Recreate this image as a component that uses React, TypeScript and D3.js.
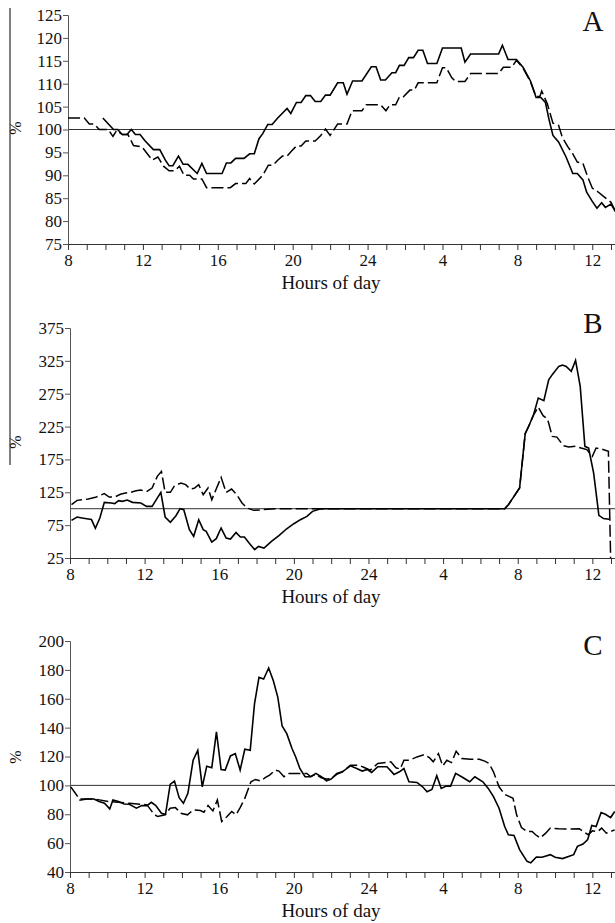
import React, { Component } from 'react';
import * as d3 from 'd3';

// hours since 08:00 on day 1, value in %
const hourLabels = ['8', '12', '16', '20', '24', '4', '8', '12'];

const panelASolid: [number, number][] = [
  [1.86, 102.5], [2.43, 100], [2.65, 100], [2.9, 98.9], [3.15, 98.9], [3.38, 100], [3.6, 98.9], [3.85, 98.9],
  [4.1, 97.6], [4.56, 95.6], [4.9, 95.6], [5.2, 93.3], [5.4, 92.1], [5.6, 92.1], [5.9, 94.2], [6.15, 92.4],
  [6.4, 92.4], [6.9, 90.4], [7.15, 92.6], [7.4, 90.4], [8.23, 90.4], [8.46, 92.7], [8.7, 92.7], [8.95, 93.7],
  [9.4, 93.7], [9.7, 94.7], [9.95, 94.7], [10.2, 98], [10.4, 99.1], [10.67, 101.1], [10.9, 101.1], [11.2, 102.5],
  [11.7, 104.6], [11.9, 103.5], [12.2, 105.9], [12.45, 105.9], [12.7, 107.4], [12.95, 107.4], [13.2, 106.1],
  [13.5, 106.1], [13.75, 107.5], [14.0, 107.5], [14.4, 110.2], [14.7, 110.2], [14.9, 107.7], [15.2, 110.6],
  [15.7, 110.6], [16.2, 113.7], [16.45, 113.7], [16.7, 110.8], [16.95, 110.8], [17.3, 112.4], [17.5, 112.4],
  [17.7, 114], [17.95, 114], [18.2, 115.7], [18.45, 115.7], [18.7, 117.3], [18.95, 117.3], [19.2, 114.4],
  [19.7, 114.4], [20.0, 117.8], [21.0, 117.8], [21.2, 114.7], [21.5, 116.5], [23.0, 116.5], [23.2, 118.4],
  [23.5, 115.3], [23.95, 115.3], [24.3, 113.6], [24.7, 110.6], [25.0, 107], [25.25, 107], [25.5, 105.9],
  [25.7, 102], [25.9, 98.7], [26.2, 97.3], [26.6, 94], [26.96, 90.4], [27.2, 90.4], [27.5, 89], [27.7, 86.3],
  [28.0, 84.3], [28.25, 82.8], [28.5, 84], [28.7, 83], [29.0, 83.7], [29.25, 82]
];

const panelADashed: [number, number][] = [
  [0, 102.5], [0.87, 102.5], [1.14, 101.2], [1.4, 101.2], [1.67, 100], [2.15, 100], [2.4, 98.5], [2.6, 99.8],
  [2.9, 98.9], [3.2, 98.9], [3.5, 96.5], [3.95, 96.2], [4.5, 93.3], [4.8, 94], [5.1, 92], [5.4, 91], [5.7, 91],
  [5.95, 92], [6.2, 90], [6.5, 90], [6.7, 89.2], [7.15, 89.2], [7.4, 87.3], [8.67, 87.3], [8.95, 88.2], [9.5, 88.2],
  [9.7, 89.3], [9.95, 88.1], [10.4, 90], [10.7, 92.2], [10.95, 92.2], [11.2, 93.3], [11.45, 94.2], [11.7, 94.2],
  [11.94, 95.3], [12.2, 96.4], [12.45, 96.4], [12.7, 97.5], [13.2, 97.5], [13.5, 98.7], [13.75, 100.1], [14.0, 98.7],
  [14.4, 101.2], [14.9, 101.2], [15.17, 104.1], [15.7, 104.1], [15.93, 105.4], [16.7, 105.4], [16.98, 104.1],
  [17.2, 105.4], [17.5, 105.4], [17.7, 107.1], [17.9, 107.1], [18.26, 108.6], [18.5, 108.6], [18.7, 110.2],
  [19.7, 110.2], [20.0, 113.5], [20.2, 113.5], [20.5, 111.3], [20.7, 110.5], [21.2, 110.5], [21.5, 112.2],
  [23.0, 112.2], [23.25, 113.6], [23.7, 113.6], [23.95, 115.1], [24.3, 113.4], [24.7, 110.4], [25.0, 107.2],
  [25.2, 107.2], [25.3, 108.4], [25.6, 105.6], [25.9, 101.4], [26.2, 100.9], [26.4, 98.3], [26.7, 96.2],
  [26.96, 94.7], [27.2, 92.9], [27.5, 92.6], [27.75, 89.7], [28.0, 87.2], [28.3, 86.4], [28.6, 85.4], [29.0, 84.1],
  [29.25, 82]
];

const panelBSolid: [number, number][] = [
  [0.08, 82.3], [0.38, 87.4], [0.64, 86], [0.98, 84.3], [1.15, 83.5], [1.36, 70.1], [1.6, 85.8], [1.84, 109.7],
  [2.2, 108.7], [2.4, 107.8], [2.6, 112.2], [2.8, 111.2], [3.07, 113.2], [3.35, 109.7], [3.8, 108.7], [4.1, 103.6],
  [4.4, 103.6], [4.87, 124.9], [5.1, 87.4], [5.38, 79.3], [5.68, 89.4], [5.9, 100], [6.1, 98.5], [6.4, 68.1],
  [6.63, 58], [6.9, 83.3], [7.14, 68.1], [7.3, 65.6], [7.6, 49.3], [7.84, 54.4], [8.1, 70.6], [8.37, 55.4],
  [8.6, 53.9], [8.9, 64], [9.13, 56.9], [9.35, 56.9], [9.6, 47.8], [9.9, 37.7], [10.1, 42.7], [10.4, 40.2],
  [10.8, 50.4], [11.2, 59], [11.6, 69.1], [12.0, 77.2], [12.35, 83.3], [12.7, 88.4], [13.0, 96], [13.4, 99.5],
  [13.7, 100], [23.3, 100], [23.5, 106.1], [23.8, 118.8], [24.1, 131.5], [24.4, 214.1], [24.6, 226.3],
  [24.85, 243], [25.1, 268.4], [25.4, 264.4], [25.66, 296.3], [25.85, 304], [26.2, 316.6], [26.4, 318.6],
  [26.6, 316.6], [26.87, 309], [27.1, 325.7], [27.35, 286.2], [27.6, 194.9], [27.8, 192.3], [28.07, 154.3],
  [28.35, 90], [28.6, 85], [28.9, 84]
];

const panelBDashed: [number, number][] = [
  [0.08, 106.1], [0.38, 112.7], [0.64, 113.7], [0.98, 114.8], [1.36, 117.3], [1.84, 122.9], [2.1, 117.8],
  [2.4, 117.8], [2.7, 121.9], [2.97, 123.9], [3.26, 124.9], [3.54, 127.4], [3.8, 128.4], [4.1, 125.9],
  [4.4, 131.5], [4.68, 149.2], [4.9, 156.8], [5.1, 124.9], [5.38, 124.9], [5.6, 135], [5.95, 139.1], [6.2, 136.6],
  [6.44, 130], [6.66, 131], [6.9, 136.6], [7.14, 121.3], [7.4, 131.5], [7.6, 113.7], [7.86, 131.5], [8.1, 147.7],
  [8.37, 124.9], [8.66, 130], [8.94, 121.3], [9.22, 108.7], [9.5, 101], [9.85, 97.5], [10.3, 98.5], [11.0, 100],
  [23.3, 100], [23.5, 106.1], [23.8, 118.8], [24.1, 131.5], [24.4, 214.1], [24.6, 226.3], [24.85, 243],
  [25.1, 254.7], [25.36, 241.5], [25.6, 236.5], [25.85, 210], [26.1, 209], [26.45, 195.9], [26.74, 193.9],
  [27.1, 194.9], [27.4, 192.3], [27.7, 190], [28.0, 179.7], [28.2, 192.3], [28.5, 190.8], [28.86, 187.3],
  [28.98, 25]
];

const panelCSolid: [number, number][] = [
  [0.5, 89.7], [0.9, 90.6], [1.28, 90.6], [1.56, 88.8], [1.85, 87.6], [2.13, 83.7], [2.3, 89.9], [2.6, 88.8],
  [2.9, 87.1], [3.18, 86.9], [3.56, 84.2], [3.85, 86], [4.13, 86], [4.36, 88.3], [4.6, 86], [4.9, 80.7],
  [5.12, 80], [5.37, 100.7], [5.6, 103], [5.85, 91.5], [6.08, 87.6], [6.32, 94.5], [6.6, 117.4], [6.85, 124.3],
  [7.09, 99], [7.33, 113.3], [7.6, 112.2], [7.85, 137], [8.1, 111], [8.32, 110.6], [8.6, 120.4], [8.86, 122],
  [9.12, 110.6], [9.37, 125], [9.66, 124.3], [9.89, 156.5], [10.13, 174.8], [10.38, 173.7], [10.65, 181.3],
  [10.9, 172.5], [11.14, 161], [11.37, 141.1], [11.62, 135.8], [11.9, 125.5], [12.1, 119.7], [12.32, 111.7],
  [12.6, 106], [12.9, 106], [13.18, 108.3], [13.47, 106], [13.75, 103.2], [14.0, 104.4], [14.3, 108.3],
  [14.6, 109.4], [15.03, 113.5], [15.37, 111.7], [15.66, 109.9], [15.94, 111], [16.17, 109], [16.5, 112.9],
  [16.99, 112.9], [17.37, 107.6], [17.66, 109.4], [17.9, 111.7], [18.17, 102.5], [18.6, 102], [18.9, 99],
  [19.14, 95.6], [19.4, 97.2], [19.66, 106.7], [19.9, 97.9], [20.17, 99.5], [20.4, 99.5], [20.67, 108.3],
  [20.99, 106], [21.43, 102.5], [21.7, 106], [22.13, 102.5], [22.42, 97.9], [22.7, 92.2], [23.0, 84.2],
  [23.3, 71.5], [23.5, 65.8], [23.8, 65.3], [24.1, 55.5], [24.5, 47.4], [24.7, 46.3], [25.0, 50.4], [25.3, 50.2],
  [25.75, 52], [26.0, 50.2], [26.4, 49.3], [26.76, 50.9], [27.0, 52], [27.2, 57.8], [27.5, 59.4], [27.75, 62.4],
  [27.97, 72.2], [28.2, 71.5], [28.47, 81.2], [28.7, 80], [28.98, 77.7], [29.2, 81.9]
];

const panelCDashed: [number, number][] = [
  [0.04, 99], [0.23, 95.6], [0.5, 90.6], [1.28, 90.6], [2.1, 88.8], [3.18, 87.6], [4.13, 86.5], [4.5, 80],
  [4.7, 78.4], [5.1, 79.6], [5.37, 84.2], [5.65, 84.6], [5.94, 80.7], [6.3, 79.6], [6.6, 83], [6.99, 82.6],
  [7.18, 81.4], [7.4, 86], [7.66, 82.3], [7.9, 89.9], [8.13, 75], [8.42, 78.4], [8.67, 81.9], [8.9, 79.6],
  [9.12, 84.6], [9.37, 91], [9.7, 102.5], [9.94, 104.1], [10.23, 103], [10.46, 105.3], [10.7, 107.1], [11.0, 110.6],
  [11.2, 109.9], [11.47, 106], [11.75, 108.3], [12.7, 108.3], [12.9, 106], [13.18, 107.6], [13.47, 105.3],
  [13.75, 104.4], [14.0, 104.8], [14.3, 107.6], [14.6, 109.4], [15.03, 114], [15.47, 114], [15.8, 112.2],
  [16.1, 110.6], [16.5, 115.2], [17.2, 116.3], [17.47, 112.2], [17.7, 111.3], [17.9, 117.4], [18.2, 117.4],
  [18.6, 119.7], [19.0, 121.3], [19.28, 119], [19.47, 116.3], [19.75, 122], [19.98, 113.5], [20.2, 117.4],
  [20.45, 115.8], [20.7, 123.6], [21.0, 118.6], [21.47, 118.1], [21.94, 118.1], [22.23, 116.8], [22.46, 115.2],
  [22.7, 109.4], [23.0, 99], [23.3, 93.8], [23.56, 92.2], [23.75, 91], [23.94, 79.6], [24.2, 70.8], [24.5, 68.1],
  [24.77, 68.1], [24.96, 65.8], [25.2, 63.5], [25.5, 66.9], [25.75, 70.4], [26.2, 70], [26.8, 69.7], [27.3, 70],
  [27.5, 68.1], [27.78, 65.8], [28.0, 68.5], [28.3, 68.1], [28.5, 70.4], [28.75, 66.9], [29.2, 69.2]
];

const yTicksA = [75, 80, 85, 90, 95, 100, 105, 110, 115, 120, 125];
const yTicksB = [25, 75, 125, 175, 225, 275, 325, 375];
const yTicksC = [40, 60, 80, 100, 120, 140, 160, 180, 200];

const FONT = "'Liberation Serif', 'Times New Roman', 'DejaVu Serif', serif";

class App extends Component {
  node: SVGSVGElement | null = null;

  componentDidMount() {
    this.draw();
  }

  draw() {
    const svg = d3.select(this.node);
    svg.selectAll('*').remove();

    // stray vertical rule down the left margin
    svg.append('line')
      .attr('x1', 10).attr('x2', 10).attr('y1', 8).attr('y2', 465)
      .attr('stroke', '#808080').attr('stroke-width', 2);

    const panels = [
      { letter: 'A', solid: panelASolid, dashed: panelADashed, ticks: yTicksA, domain: [75, 125],
        left: 68, top: 15, bottom: 244, letterY: 31, pctY: 128 },
      { letter: 'B', solid: panelBSolid, dashed: panelBDashed, ticks: yTicksB, domain: [25, 375],
        left: 70, top: 328, bottom: 558, letterY: 333, pctY: 442 },
      { letter: 'C', solid: panelCSolid, dashed: panelCDashed, ticks: yTicksC, domain: [40, 200],
        left: 70, top: 641, bottom: 872, letterY: 655, pctY: 757 }
    ];

    panels.forEach(p => {
      const x = d3.scaleLinear().domain([0, 29]).range([p.left, 611]);
      const y = d3.scaleLinear().domain(p.domain).range([p.bottom, p.top]);
      const g = svg.append('g').style('font-family', FONT);

      // 100% reference
      g.append('line')
        .attr('x1', p.left).attr('x2', 615)
        .attr('y1', y(100)).attr('y2', y(100))
        .attr('stroke', '#333').attr('stroke-width', 1);

      // y axis
      const yAxis = d3.axisLeft(y).tickValues(p.ticks).tickSize(5).tickFormat(d3.format('d'));
      const yg = g.append('g').attr('transform', `translate(${p.left},0)`).call(yAxis);
      yg.attr('font-family', null);
      yg.select('.domain').attr('stroke', '#555');
      yg.selectAll('.tick line').attr('stroke', '#555');
      yg.selectAll('.tick text')
        .style('font-family', FONT).attr('font-size', 17).attr('fill', '#111').attr('x', -6);

      // x axis: ticks every hour, labels every 4 hours
      const xAxis = d3.axisBottom(x)
        .tickValues(d3.range(0, 30))
        .tickSize(6)
        .tickFormat((d: any) => (d % 4 === 0 ? hourLabels[d / 4] : ''));
      const xg = g.append('g').attr('transform', `translate(0,${p.bottom})`).call(xAxis);
      xg.attr('font-family', null);
      xg.select('.domain').attr('d', `M${p.left},0.5H615`).attr('stroke', '#333');
      xg.selectAll('.tick line').attr('stroke', '#333');
      xg.selectAll('.tick text')
        .style('font-family', FONT).attr('font-size', 17).attr('fill', '#111').attr('y', 10);

      g.append('text')
        .attr('x', 331).attr('y', p.bottom + 45)
        .attr('text-anchor', 'middle')
        .style('font-family', FONT).attr('font-size', 19).attr('fill', '#111')
        .text('Hours of day');

      g.append('text')
        .attr('transform', `translate(21,${p.pctY}) rotate(-90)`)
        .attr('text-anchor', 'middle')
        .style('font-family', FONT).attr('font-size', 16).attr('fill', '#111')
        .text('%');

      g.append('text')
        .attr('x', 593).attr('y', p.letterY)
        .attr('text-anchor', 'middle')
        .style('font-family', FONT).attr('font-size', 29).attr('fill', '#111')
        .text(p.letter);

      const line = d3.line<[number, number]>()
        .x(d => x(d[0]))
        .y(d => y(d[1]));

      g.append('path')
        .attr('d', line(p.dashed))
        .attr('fill', 'none').attr('stroke', '#000').attr('stroke-width', 1.5)
        .attr('stroke-dasharray', '12,4');

      g.append('path')
        .attr('d', line(p.solid))
        .attr('fill', 'none').attr('stroke', '#000').attr('stroke-width', 1.6);
    });
  }

  render() {
    return (
      <svg
        ref={el => { this.node = el; }}
        width={615}
        height={923}
        style={{ position: 'absolute', left: 0, top: 0, background: '#fff' }}
      />
    );
  }
}

export default App;
